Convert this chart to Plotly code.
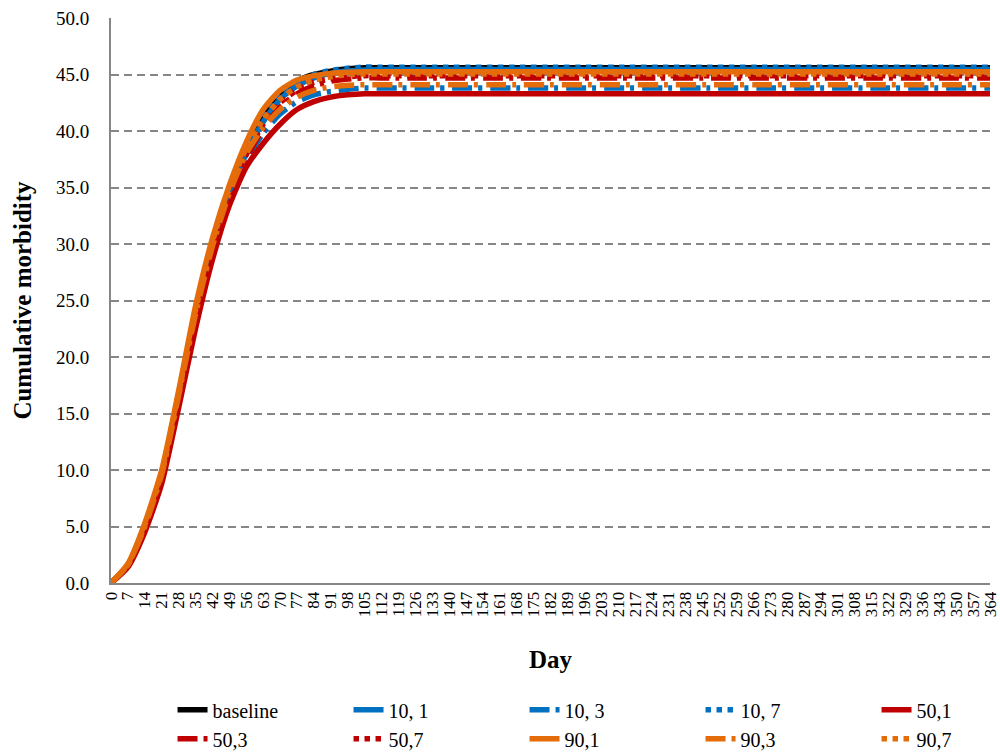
import plotly.graph_objects as go

# ---- data ----
days = [0, 7, 14, 21, 28, 35, 42, 49, 56, 63, 70, 77, 84, 91, 98, 105, 112, 119, 126, 364]

baseline = [0, 1.6, 5.0, 9.6, 16.5, 23.8, 30.0, 34.8, 38.5, 41.4, 43.3, 44.4, 45.0, 45.3, 45.5, 45.6, 45.6, 45.6, 45.6, 45.6]
s10_1 = [0, 1.55, 4.9, 9.4, 16.2, 23.4, 29.6, 34.4, 38.0, 40.8, 42.8, 44.0, 44.7, 45.1, 45.3, 45.4, 45.45, 45.45, 45.45, 45.45]
s10_3 = [0, 1.5, 4.8, 9.2, 16.0, 23.2, 29.3, 34.0, 37.4, 39.8, 41.5, 42.6, 43.2, 43.5, 43.7, 43.8, 43.8, 43.8, 43.8, 43.8]
s10_7 = [0, 1.6, 5.0, 9.6, 16.5, 23.8, 30.0, 34.8, 38.5, 41.4, 43.3, 44.4, 45.0, 45.35, 45.55, 45.65, 45.65, 45.65, 45.65, 45.65]
s50_1 = [0, 1.4, 4.5, 8.8, 15.5, 22.5, 28.6, 33.4, 36.8, 38.9, 40.6, 41.9, 42.6, 43.0, 43.2, 43.3, 43.3, 43.3, 43.3, 43.3]
s50_3 = [0, 1.5, 4.7, 9.1, 15.9, 23.1, 29.2, 34.0, 37.6, 40.2, 42.1, 43.3, 44.0, 44.4, 44.6, 44.7, 44.7, 44.7, 44.7, 44.7]
s50_7 = [0, 1.5, 4.8, 9.3, 16.1, 23.3, 29.5, 34.3, 37.9, 40.6, 42.5, 43.6, 44.3, 44.6, 44.8, 44.9, 44.9, 44.9, 44.9, 44.9]
s90_1 = [0, 1.7, 5.3, 10.0, 17.0, 24.5, 30.5, 35.2, 39.0, 41.9, 43.6, 44.5, 44.9, 45.1, 45.2, 45.25, 45.25, 45.25, 45.25, 45.25]
s90_3 = [0, 1.6, 5.0, 9.6, 16.6, 23.8, 29.8, 34.5, 38.0, 40.3, 41.9, 43.0, 43.6, 43.9, 44.05, 44.1, 44.1, 44.1, 44.1, 44.1]
s90_7 = [0, 1.6, 5.1, 9.8, 16.8, 24.1, 30.2, 34.9, 38.5, 41.0, 42.8, 43.9, 44.5, 44.8, 45.0, 45.05, 45.05, 45.05, 45.05, 45.05]

series_names = ["baseline", "10, 1", "10, 3", "10, 7", "50,1", "50,3", "50,7", "90,1", "90,3", "90,7"]
series_values = [baseline, s10_1, s10_3, s10_7, s50_1, s50_3, s50_7, s90_1, s90_3, s90_7]

tick_days = list(range(0, 365, 7))
y_ticks = [0, 5, 10, 15, 20, 25, 30, 35, 40, 45, 50]

# ---- styles ----
BLACK = "#000000"
BLUE = "#0070C0"
RED = "#C00000"
ORANGE = "#E46C0A"
DASHDOT = "20px,6px,4px,8px"
styles = [
    (BLACK, "solid"),
    (BLUE, "solid"), (BLUE, DASHDOT), (BLUE, "dot"),
    (RED, "solid"), (RED, DASHDOT), (RED, "dot"),
    (ORANGE, "solid"), (ORANGE, DASHDOT), (ORANGE, "dot"),
]

FONT = "Times New Roman, Liberation Serif, serif"
GRID = "#868686"

fig = go.Figure()
for name, vals, (col, dash) in zip(series_names, series_values, styles):
    fig.add_trace(go.Scatter(
        x=days, y=vals, name=name, mode="lines",
        line=dict(color=col, width=5.5, dash=dash, shape="spline", smoothing=0.6),
    ))

fig.update_layout(
    width=1000, height=752,
    margin=dict(l=111, r=10, t=18, b=169, autoexpand=False),
    paper_bgcolor="white", plot_bgcolor="white",
    font=dict(family=FONT, color="black", size=19),
    showlegend=True,
    legend=dict(
        orientation="h", x=0.07, xanchor="left", y=-0.19, yanchor="top",
        font=dict(family=FONT, size=20, color="black"),
        entrywidth=131, entrywidthmode="pixels",
        itemwidth=30, tracegroupgap=0, bgcolor="rgba(0,0,0,0)",
    ),
)

fig.update_xaxes(
    range=[0, 364], tickmode="array", tickvals=tick_days,
    ticktext=[str(d) for d in tick_days], tickangle=-90,
    tickfont=dict(family=FONT, size=17), ticklabeloverflow="allow",
    showgrid=False, zeroline=False, automargin=False,
    showline=True, linecolor=GRID, linewidth=2, ticks="",
    title=dict(text="<b>Day</b>", font=dict(family=FONT, size=25), standoff=34),
)
fig.update_yaxes(
    range=[0, 50], tickmode="array", tickvals=y_ticks,
    ticktext=[f"{v:.1f}" for v in y_ticks],
    tickfont=dict(family=FONT, size=19), automargin=False,
    showgrid=True, gridcolor=GRID, gridwidth=1.5, griddash="8px,5px",
    zeroline=False, showline=True, linecolor=GRID, linewidth=2,
    ticks="outside", ticklen=16, tickcolor="rgba(0,0,0,0)",
    title=dict(text="<b>Cumulative morbidity</b>", font=dict(family=FONT, size=25), standoff=17),
)

fig.write_html("out.html")
